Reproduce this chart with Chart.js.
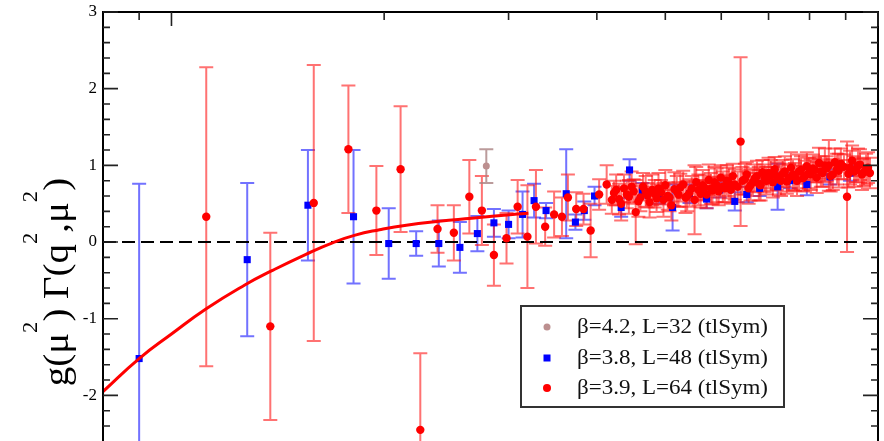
<!DOCTYPE html>
<html>
<head>
<meta charset="utf-8">
<script src="https://cdn.jsdelivr.net/npm/chart.js@4.4.0/dist/chart.umd.min.js"></script>
<style>
  html, body { margin: 0; padding: 0; background: #fff; overflow: hidden; }
  #wrap { width: 884px; height: 441px; }
</style>
</head>
<body>
<div id="wrap"><canvas id="chart" width="884" height="441"></canvas></div>
<script>
// beta=3.9, L=64 (red)
const redQ2 = [1.12, 1.38, 1.59, 1.78, 1.95, 2.11, 2.25, 2.38, 2.51, 2.64, 2.75, 2.86, 2.98, 3.09, 3.19, 3.28, 3.38, 3.48, 3.57, 3.64, 3.74, 3.83, 3.92, 4.03, 4.13,
  4.20, 4.26, 4.33, 4.41, 4.48, 4.54, 4.61, 4.69, 4.75, 4.83, 4.89, 4.97, 5.04, 5.10, 5.19, 5.25, 5.34, 5.41, 5.50, 5.57,
  5.65, 5.72, 5.80, 5.87, 5.95, 6.03, 6.11, 6.19, 6.27, 6.39, 6.48, 6.56, 6.65, 6.74, 6.82, 6.91, 7.00, 7.10, 7.19, 7.29,
  7.38, 7.48, 7.58, 7.68, 7.78, 7.88, 7.98, 8.09, 8.19, 8.30, 8.41, 8.52, 8.63, 8.75, 8.86, 9.04, 9.13, 9.25, 9.37, 9.49, 9.62, 9.74,
  4.23, 4.30, 4.37, 4.44, 4.51, 4.58, 4.65, 4.72, 4.79, 4.86,
  4.93, 5.00, 5.07, 5.15, 5.22, 5.30, 5.37, 5.45, 5.53, 5.61,
  5.68, 5.76, 5.83, 5.91, 5.99, 6.07, 6.15, 6.23, 6.33, 6.43,
  6.52, 6.60, 6.69, 6.78, 6.86, 6.95, 7.05, 7.14, 7.24, 7.33,
  7.43, 7.53, 7.63, 7.73, 7.83, 7.93, 8.03, 8.14, 8.25, 8.35,
  8.46, 8.57, 8.69, 8.80, 8.95, 9.08, 9.19, 9.31, 9.43, 9.55, 9.68];
const redVal = [0.33, -1.10, 0.51, 1.21, 0.41, 0.95, -2.45, 0.17, 0.12, 0.59, 0.41, -0.17, 0.05, 0.46, 0.07, 0.46, 0.20, 0.36, 0.33, 0.58, 0.43, 0.43, 0.15, 0.62, 0.75,
  0.55, 0.68, 0.50, 0.62, 0.72, 0.39, 0.58, 0.66, 0.52, 0.63, 0.70, 0.55, 0.60, 0.48, 0.66, 0.71, 0.58, 0.64, 0.55, 0.68,
  0.74, 0.62, 0.70, 0.78, 0.66, 0.72, 0.80, 0.68, 0.75, 1.31, 0.82, 0.70, 0.78, 0.86, 0.74, 0.83, 0.90, 0.78, 0.86, 0.80,
  0.92, 0.84, 0.88, 0.80, 0.94, 0.86, 0.90, 0.96, 0.84, 0.92, 1.00, 1.00, 0.88, 0.95, 1.02, 0.59, 0.97, 0.92, 1.00, 0.88, 0.95, 0.90,
  0.64, 0.56, 0.70, 0.59, 0.66, 0.53, 0.72, 0.61, 0.68, 0.57,
  0.65, 0.74, 0.58, 0.69, 0.62, 0.75, 0.60, 0.70, 0.78, 0.63,
  0.71, 0.81, 0.67, 0.74, 0.84, 0.70, 0.77, 0.86, 0.72, 0.80,
  0.88, 0.74, 0.83, 0.76, 0.91, 0.80, 0.87, 0.95, 0.82, 0.89,
  0.79, 0.97, 0.85, 0.92, 0.83, 0.99, 0.88, 0.94, 1.03, 0.90,
  0.96, 0.86, 1.04, 0.93, 0.98, 0.89, 1.06, 0.94, 1.01, 0.91, 0.97];
const redErr = [1.95, 1.22, 1.80, 0.83, 0.58, 0.82, 1.00, 0.31, 0.36, 0.48, 0.45, 0.40, 0.33, 0.35, 0.67, 0.48, 0.25, 0.30, 0.25, 0.30, 0.22, 0.20, 0.35, 0.20, 0.25,
  0.18, 0.20, 0.22, 0.18, 0.20, 0.42, 0.18, 0.20, 0.20, 0.18, 0.20, 0.22, 0.18, 0.20, 0.20, 0.18, 0.20, 0.18, 0.45, 0.20,
  0.20, 0.18, 0.20, 0.20, 0.18, 0.20, 0.20, 0.18, 0.20, 1.10, 0.20, 0.20, 0.18, 0.20, 0.20, 0.18, 0.20, 0.20, 0.18, 0.20,
  0.20, 0.18, 0.20, 0.20, 0.18, 0.20, 0.20, 0.18, 0.20, 0.20, 0.22, 0.33, 0.20, 0.20, 0.20, 0.72, 0.22, 0.20, 0.22, 0.20, 0.20, 0.20,
  0.16, 0.20, 0.18, 0.22, 0.16, 0.20, 0.18, 0.16, 0.20, 0.18,
  0.16, 0.20, 0.18, 0.22, 0.16, 0.18, 0.20, 0.16, 0.20, 0.18,
  0.16, 0.20, 0.18, 0.22, 0.16, 0.18, 0.20, 0.16, 0.20, 0.18,
  0.16, 0.20, 0.18, 0.22, 0.16, 0.18, 0.20, 0.16, 0.20, 0.18,
  0.16, 0.20, 0.18, 0.22, 0.16, 0.18, 0.20, 0.16, 0.20, 0.18,
  0.16, 0.20, 0.18, 0.22, 0.16, 0.18, 0.20, 0.16, 0.20, 0.18, 0.20];

// beta=3.8, L=48 (blue)
const blueQ2 = [0.90, 1.28, 1.56, 1.81, 2.03, 2.22, 2.39, 2.56, 2.71, 2.86, 3.00, 3.14, 3.26, 3.39, 3.62, 3.73, 3.84,
  3.97, 4.33, 4.45, 4.64, 4.90, 5.12, 5.41, 5.72, 5.97, 6.27, 6.52, 6.80, 7.21, 7.50, 7.93, 8.55, 9.13];
const blueVal = [-1.52, -0.23, 0.48, 0.33, -0.02, -0.02, -0.02, -0.07, 0.11, 0.25, 0.23, 0.36, 0.54, 0.41, 0.63, 0.26, 0.41,
  0.60, 0.45, 0.94, 0.67, 0.60, 0.45, 0.63, 0.56, 0.68, 0.53, 0.62, 0.70, 0.72, 0.80, 0.75, 0.85, 0.90];
const blueErr = [2.28, 1.00, 0.72, 0.87, 0.46, 0.16, 0.30, 0.33, 0.23, 0.18, 0.18, 0.30, 0.22, 0.10, 0.58, 0.10, 0.12,
  0.12, 0.12, 0.14, 0.10, 0.10, 0.30, 0.12, 0.12, 0.10, 0.12, 0.10, 0.10, 0.30, 0.10, 0.14, 0.10, 0.10];

// beta=4.2, L=32 (brown)
const brownQ2 = [2.79];
const brownVal = [0.99];
const brownErr = [0.22];

// fit curve
const fitQ2 = [0.80, 0.90, 1.00, 1.12, 1.27, 1.39, 1.55, 1.69, 1.82, 1.97, 2.15, 2.39, 2.66, 3.04, 3.20];
const fitVal = [-1.95, -1.52, -1.20, -0.87, -0.56, -0.37, -0.16, -0.01, 0.09, 0.16, 0.22, 0.27, 0.31, 0.36, 0.375];

const Y_TICKS = [-2, -1, 0, 1, 2, 3];
const X_MAJOR = [1, 10];
const X_MINOR = [0.9, 2, 3, 4, 5, 6, 7, 8, 9];
const LEGEND_LABELS = ['β=4.2, L=32 (tlSym)', 'β=3.8, L=48 (tlSym)', 'β=3.9, L=64 (tlSym)'];

const RED = '#ff0000', BLUE = '#0000ff', BROWN = '#bc8f8f';
const FONT = '"Liberation Serif", "Times New Roman", serif';

const pts = (xs, ys) => xs.map((q, i) => ({ x: q, y: ys[i] }));

const ERR_SETS = [
  { q2: blueQ2, val: blueVal, err: blueErr, color: 'rgba(20,20,255,0.6)' },
  { q2: redQ2, val: redVal, err: redErr, color: 'rgba(255,20,20,0.6)' },
  { q2: brownQ2, val: brownVal, err: brownErr, color: 'rgba(170,130,130,0.8)' }
];

const errorBars = {
  id: 'errorBars',
  beforeDatasetsDraw(chart) {
    const { ctx, chartArea: a, scales: { x, y } } = chart;
    ctx.save();
    ctx.beginPath();
    ctx.rect(a.left, a.top, a.right - a.left, a.bottom - a.top + 50);
    ctx.clip();
    ctx.lineWidth = 2;
    ERR_SETS.forEach(set => {
      ctx.strokeStyle = set.color;
      set.q2.forEach((q, i) => {
        const px = x.getPixelForValue(q);
        const top = y.getPixelForValue(set.val[i] + set.err[i]);
        const bot = y.getPixelForValue(set.val[i] - set.err[i]);
        ctx.beginPath();
        ctx.moveTo(px, top); ctx.lineTo(px, bot);
        ctx.moveTo(px - 7, top); ctx.lineTo(px + 7, top);
        ctx.moveTo(px - 7, bot); ctx.lineTo(px + 7, bot);
        ctx.stroke();
      });
    });
    ctx.restore();
  }
};

function drawTitle(ctx) {
  const parts = [['g(μ', 0], ['2', 1], [') Γ(q', 0], ['2', 1], [',μ', 0], ['2', 1], [')', 0]];
  const big = '36px ' + FONT, small = '21px ' + FONT;
  const stretch = 1.08;
  let total = 0;
  parts.forEach(([t, s]) => { ctx.font = s ? small : big; total += ctx.measureText(t).width; });
  ctx.save();
  ctx.translate(68, 282 + total * stretch / 2);
  ctx.rotate(-Math.PI / 2);
  ctx.scale(stretch, 1);
  ctx.fillStyle = '#000';
  ctx.textBaseline = 'alphabetic';
  let cx = 0;
  parts.forEach(([t, s]) => {
    ctx.font = s ? small : big;
    ctx.fillText(t, cx, s ? -31 : 0);
    cx += ctx.measureText(t).width;
  });
  ctx.restore();
}

function drawLegend(ctx) {
  ctx.save();
  ctx.strokeStyle = '#333';
  ctx.lineWidth = 2;
  ctx.strokeRect(521, 306, 263, 101);
  const rows = [327, 358, 388];
  ctx.fillStyle = BROWN;
  ctx.beginPath(); ctx.arc(547, rows[0], 3.5, 0, Math.PI * 2); ctx.fill();
  ctx.fillStyle = BLUE;
  ctx.fillRect(543.5, rows[1] - 3.5, 7, 7);
  ctx.fillStyle = RED;
  ctx.beginPath(); ctx.arc(547, rows[2], 4, 0, Math.PI * 2); ctx.fill();
  ctx.fillStyle = '#111';
  ctx.font = '20px ' + FONT;
  ctx.textBaseline = 'middle';
  LEGEND_LABELS.forEach((t, i) => {
    ctx.save();
    ctx.translate(577, rows[i] + 1);
    ctx.scale(1.15, 1);
    ctx.fillText(t, 0, 0);
    ctx.restore();
  });
  ctx.restore();
}

const frame = {
  id: 'frame',
  afterDraw(chart) {
    const { ctx, chartArea: a, scales: { x, y } } = chart;
    ctx.save();
    ctx.strokeStyle = '#000';
    ctx.lineWidth = 2;
    ctx.beginPath();
    ctx.moveTo(a.left, a.bottom + 5); ctx.lineTo(a.left, a.top);
    ctx.lineTo(a.right, a.top); ctx.lineTo(a.right, a.bottom + 5);
    ctx.stroke();
    ctx.lineWidth = 1.6;
    ctx.strokeStyle = '#222';
    ctx.beginPath();
    // y ticks, every 0.2
    for (let k = -12; k <= 15; k++) {
      const py = y.getPixelForValue(k / 5);
      const len = k % 5 === 0 ? 15 : 7;
      ctx.moveTo(a.left, py); ctx.lineTo(a.left + len, py);
      ctx.moveTo(a.right, py); ctx.lineTo(a.right - len, py);
    }
    X_MAJOR.forEach(v => { const px = x.getPixelForValue(v); ctx.moveTo(px, a.top); ctx.lineTo(px, a.top + 14); });
    X_MINOR.forEach(v => { const px = x.getPixelForValue(v); ctx.moveTo(px, a.top); ctx.lineTo(px, a.top + 8); });
    ctx.stroke();
    ctx.restore();
    drawLegend(ctx);
    drawTitle(ctx);
  }
};

new Chart(document.getElementById('chart'), {
  type: 'scatter',
  data: {
    datasets: [
      {
        label: 'zero', type: 'line', data: [{ x: 0.8, y: 0 }, { x: 10, y: 0 }],
        borderColor: '#000', borderWidth: 2, borderDash: [13, 6], pointRadius: 0, order: 6
      },
      {
        label: 'fit', type: 'line', data: pts(fitQ2, fitVal),
        borderColor: RED, borderWidth: 3, pointRadius: 0, tension: 0.5, order: 0
      },
      {
        label: LEGEND_LABELS[0], data: pts(brownQ2, brownVal),
        pointStyle: 'circle', pointRadius: 3.5, backgroundColor: BROWN, borderWidth: 0, order: 1
      },
      {
        label: LEGEND_LABELS[1], data: pts(blueQ2, blueVal),
        pointStyle: 'rect', pointRadius: 5, backgroundColor: BLUE, borderWidth: 0, order: 3
      },
      {
        label: LEGEND_LABELS[2], data: pts(redQ2, redVal),
        pointStyle: 'circle', pointRadius: 4.2, backgroundColor: RED, borderWidth: 0, order: 2
      }
    ]
  },
  options: {
    responsive: false,
    animation: false,
    layout: { padding: { top: 12, right: 6, bottom: 0, left: 0 } },
    plugins: { legend: { display: false }, tooltip: { enabled: false } },
    scales: {
      x: { type: 'logarithmic', min: 0.8, max: 10, display: false },
      y: {
        min: -2.53, max: 3,
        afterBuildTicks: s => { s.ticks = Y_TICKS.map(v => ({ value: v })); },
        afterFit: s => { s.width = 103; s.paddingTop = 0; s.paddingBottom = 0; },
        grid: { display: false, drawTicks: false },
        border: { display: false },
        ticks: { font: { family: FONT, size: 17 }, color: '#000', padding: 6 }
      }
    }
  },
  plugins: [errorBars, frame]
});
</script>
</body>
</html>
